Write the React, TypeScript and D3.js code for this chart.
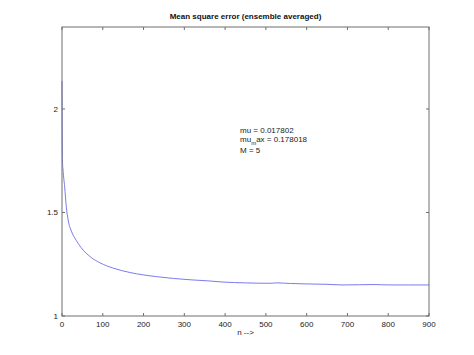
import React from "react";
import * as d3 from "d3";

const nValues = [0, 1, 2.5, 6.5, 10.5, 15, 23, 35, 47, 70, 93, 126, 167, 232, 314, 363, 395, 450, 510, 527, 560, 600, 650, 689, 730, 763, 804, 850, 900];
const mseValues = [2.135, 1.754, 1.705, 1.625, 1.528, 1.464, 1.41, 1.365, 1.33, 1.285, 1.257, 1.231, 1.21, 1.19, 1.175, 1.169, 1.164, 1.16, 1.158, 1.16, 1.157, 1.155, 1.153, 1.15, 1.151, 1.152, 1.15, 1.15, 1.15];
const xTicks = [0, 100, 200, 300, 400, 500, 600, 700, 800, 900];
const yTicks = [1, 1.5, 2];
const titleText = "Mean square error (ensemble averaged)";
const xLabel = "n -->";

export default function App() {
  const W = 474, H = 355;
  const left = 62, right = 429, top = 27, bottom = 316;
  const x = d3.scaleLinear().domain([0, 900]).range([left, right]);
  const y = d3.scaleLinear().domain([1, 2.396]).range([bottom, top]);
  const line = d3.line<number>().x((_, i) => x(nValues[i])).y((d) => y(d)).curve(d3.curveMonotoneX);
  const axisColor = "#6e6e6e";
  const font = "'Liberation Sans', Arial, sans-serif";
  return (
    <svg width={W} height={H} style={{ position: "absolute", left: 0, top: 0, background: "#fff" }}>
      <rect x={0} y={0} width={W} height={H} fill="#fff" />
      <path d={line(mseValues) || ""} fill="none" stroke="#7b7bee" strokeWidth={1} />
      <rect x={left} y={top} width={right - left} height={bottom - top} fill="none" stroke={axisColor} strokeWidth={1} />
      {xTicks.map((t) => (
        <g key={"x" + t}>
          <line x1={x(t)} x2={x(t)} y1={bottom} y2={bottom - 3} stroke={axisColor} />
          <line x1={x(t)} x2={x(t)} y1={top} y2={top + 3} stroke={axisColor} />
          <text x={x(t)} y={bottom + 11} fontSize={8} fontFamily={font} textAnchor="middle" fill="#222">{t}</text>
        </g>
      ))}
      {yTicks.map((t) => (
        <g key={"y" + t}>
          <line x1={left} x2={left + 3} y1={y(t)} y2={y(t)} stroke={axisColor} />
          <line x1={right} x2={right - 3} y1={y(t)} y2={y(t)} stroke={axisColor} />
          <text x={left - 4} y={y(t) + 3} fontSize={8} fontFamily={font} textAnchor="end" fill="#222">{t}</text>
        </g>
      ))}
      <text x={(left + right) / 2} y={19} fontSize={8} fontWeight="bold" fontFamily={font} textAnchor="middle" fill="#111">{titleText}</text>
      <text x={(left + right) / 2} y={335} fontSize={8} fontFamily={font} textAnchor="middle" fill="#222">{xLabel}</text>
      <g fontSize={8} fontFamily={font} fill="#222">
        <text x={240} y={133}>mu = 0.017802</text>
        <text x={240} y={142}>mu<tspan dy={3} fontSize={6}>m</tspan><tspan dy={-3}>ax = 0.178018</tspan></text>
        <text x={240} y={153}>M = 5</text>
      </g>
    </svg>
  );
}
